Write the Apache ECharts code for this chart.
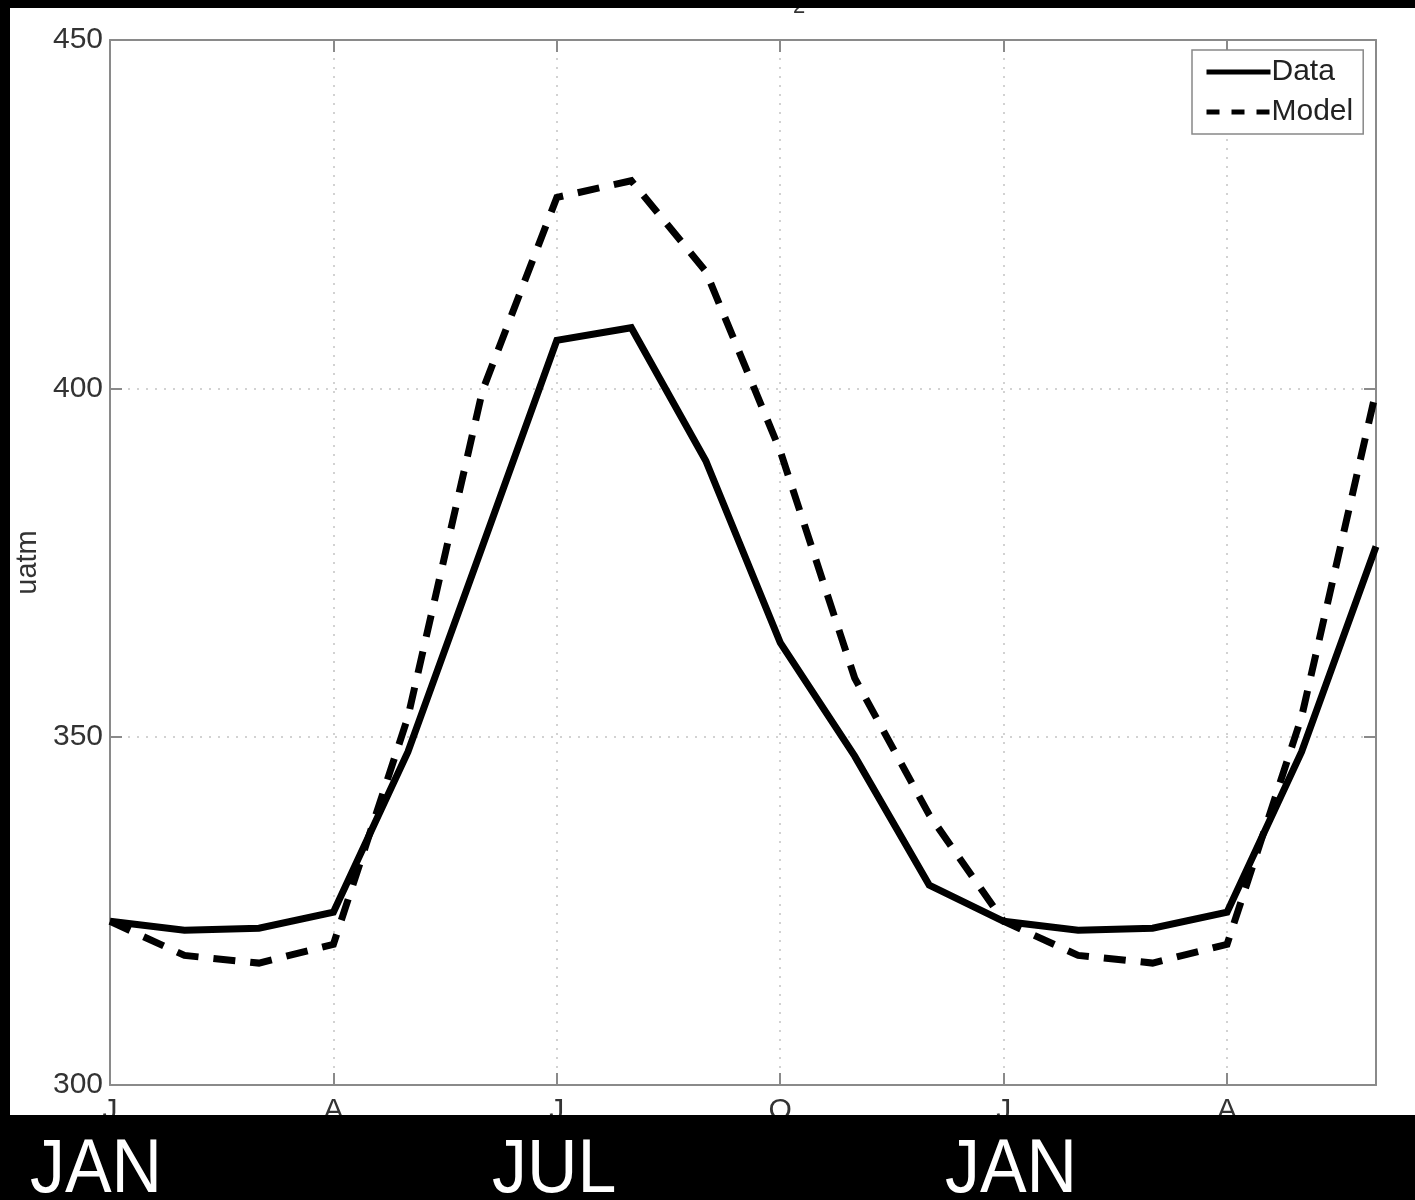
<!DOCTYPE html>
<html>
<head>
<meta charset="utf-8">
<script src="https://cdn.jsdelivr.net/npm/echarts@6/dist/echarts.min.js"></script>
<style>html,body{margin:0;padding:0;background:#000;}#c{width:1415px;height:1200px;}</style>
</head>
<body>
<div id="c"></div>
<script>
// month ticks (Jan .. Jun of following year)
var months = ['J','F','M','A','M','J','J','A','S','O','N','D','J','F','M','A','M','J'];
var dataSeries = [323.5, 322.2, 322.5, 324.8, 347.8, 377.3, 406.9, 408.7, 389.6, 363.5, 347.2, 328.7, 323.5, 322.2, 322.5, 324.8, 347.8, 377.3];
var modelSeries = [323.5, 318.6, 317.5, 320.2, 352.8, 399.6, 427.4, 429.8, 416.8, 391.0, 358.4, 338.8, 323.5, 318.6, 317.5, 320.2, 352.8, 399.6];
var yTicks = [300, 350, 400, 450];
var bottomLabels = ['JAN', 'JUL', 'JAN'];
var seriesNames = ['Data', 'Model'];

var FONT = 'Liberation Sans, Arial, Helvetica, sans-serif';
var chart = echarts.init(document.getElementById('c'), null, {renderer: 'canvas'});

var axisGray = '#8a8a8a';
var option = {
  backgroundColor: '#ffffff',
  animation: false,
  grid: {left: 110, right: 39, top: 40, bottom: 115, containLabel: false},
  legend: {
    orient: 'vertical',
    left: 1192, top: 50,
    padding: [7, 10, 7, 12],
    itemGap: 10,
    itemWidth: 64, itemHeight: 30,
    borderColor: '#888', borderWidth: 1.5,
    backgroundColor: '#fff',
    itemStyle: {opacity: 0},
    lineStyle: {width: 5},
    data: [
      {name: seriesNames[0], lineStyle: {width: 5, type: 'solid', color: '#000'}},
      {name: seriesNames[1], lineStyle: {width: 5, type: [13, 12], color: '#000'}}
    ],
    textStyle: {fontFamily: FONT, fontSize: 30, color: '#222', padding: [0,0,0,-4]}
  },
  xAxis: [{
    type: 'category', data: months, boundaryGap: false, position: 'bottom',
    axisLine: {lineStyle: {color: axisGray, width: 2}},
    axisTick: {inside: true, length: 12, interval: 2, lineStyle: {color: axisGray, width: 2}},
    axisLabel: {interval: 2, fontFamily: FONT, fontSize: 30, color: '#333', margin: 11},
    splitLine: {show: true, interval: 2, lineStyle: {color: '#c4c4c4', width: 1.5, type: [2, 7]}}
  }, {
    type: 'category', data: months, boundaryGap: false, position: 'top',
    axisLine: {lineStyle: {color: axisGray, width: 2}},
    axisTick: {inside: true, length: 12, interval: 2, lineStyle: {color: axisGray, width: 2}},
    axisLabel: {show: false}, splitLine: {show: false}
  }],
  yAxis: [{
    type: 'value', min: 300, max: 450, interval: 50, position: 'left',
    name: 'uatm', nameLocation: 'middle', nameGap: 64, nameRotate: 90,
    nameTextStyle: {fontFamily: FONT, fontSize: 29, color: '#333'},
    axisLine: {show: true, lineStyle: {color: axisGray, width: 2}},
    axisTick: {show: true, inside: true, length: 12, lineStyle: {color: axisGray, width: 2}},
    axisLabel: {fontFamily: FONT, fontSize: 30, color: '#333', margin: 7,
      formatter: function (v) { return yTicks.indexOf(v) >= 0 ? String(v) : ''; }},
    splitLine: {show: true, lineStyle: {color: '#c4c4c4', width: 1.5, type: [2, 7]}}
  }, {
    type: 'value', min: 300, max: 450, interval: 50, position: 'right',
    axisLine: {show: true, lineStyle: {color: axisGray, width: 2}},
    axisTick: {show: true, inside: true, length: 12, lineStyle: {color: axisGray, width: 2}},
    axisLabel: {show: false}, splitLine: {show: false}
  }],
  series: [{
    name: seriesNames[0], type: 'line', data: dataSeries, symbol: 'circle', showSymbol: false,
    xAxisIndex: 0, yAxisIndex: 0, z: 3,
    lineStyle: {color: '#000', width: 7, join: 'miter'},
    itemStyle: {color: '#000'}
  }, {
    name: seriesNames[1], type: 'line', data: modelSeries, symbol: 'circle', showSymbol: false,
    xAxisIndex: 0, yAxisIndex: 0, z: 4,
    lineStyle: {color: '#000', width: 7, type: [22, 15], join: 'miter'},
    itemStyle: {color: '#000'}
  }],
  graphic: [
    {type: 'text', z: 50, x: 792, y: 6,
      style: {text: 'pCO', font: '30px ' + FONT, fill: '#333', textAlign: 'right', textVerticalAlign: 'bottom'}},
    {type: 'text', z: 50, x: 793, y: 18,
      style: {text: '2', font: '22px ' + FONT, fill: '#333', textAlign: 'left', textVerticalAlign: 'bottom'}},
    {type: 'rect', z: 100, shape: {x: 0, y: 0, width: 1415, height: 8}, style: {fill: '#000'}},
    {type: 'rect', z: 100, shape: {x: 0, y: 0, width: 10, height: 1200}, style: {fill: '#000'}},
    {type: 'rect', z: 100, shape: {x: 0, y: 1115, width: 1415, height: 85}, style: {fill: '#000'}},
    {type: 'text', z: 101, x: 30, y: 1209, scaleX: 0.92,
      style: {text: bottomLabels[0], font: '76px ' + FONT, fill: '#fff', textVerticalAlign: 'bottom'}},
    {type: 'text', z: 101, x: 492, y: 1209, scaleX: 0.92,
      style: {text: bottomLabels[1], font: '76px ' + FONT, fill: '#fff', textVerticalAlign: 'bottom'}},
    {type: 'text', z: 101, x: 945, y: 1209, scaleX: 0.92,
      style: {text: bottomLabels[2], font: '76px ' + FONT, fill: '#fff', textVerticalAlign: 'bottom'}}
  ]
};
chart.setOption(option);
</script>
</body>
</html>
